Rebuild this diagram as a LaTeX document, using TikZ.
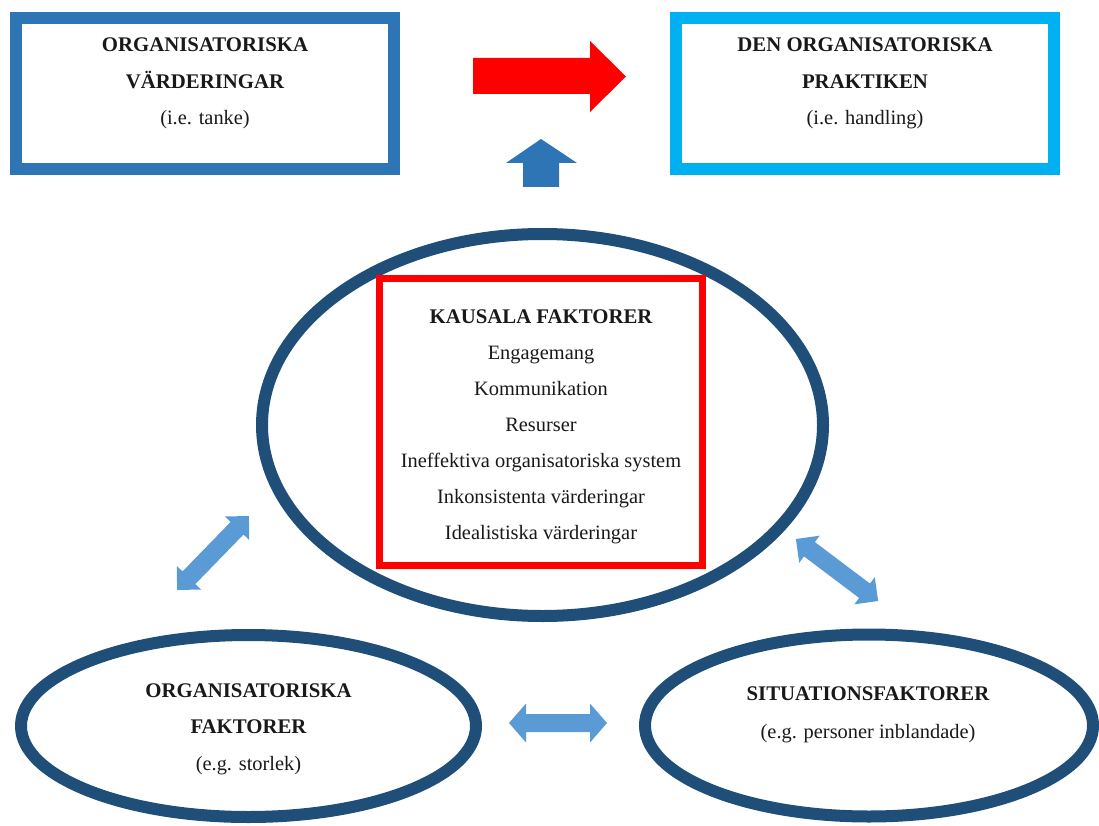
\documentclass[tikz,border=0pt]{standalone}
\usepackage{fontspec}
\setmainfont{Liberation Serif}
\usetikzlibrary{shapes.geometric}
\definecolor{frameblue}{HTML}{2E75B6}
\definecolor{framecyan}{HTML}{00B0F0}
\definecolor{ringblue}{HTML}{1F4E79}
\definecolor{linkblue}{HTML}{5B9BD5}
\definecolor{causered}{HTML}{FF0000}
\newcommand\headfont{\fontsize{20.8}{36.5}\selectfont\bfseries}
\newcommand\plainfont{\fontsize{20.4}{36.5}\selectfont}
\tikzset{
  % two-headed block arrow: length, shaft width, head width, head length
  pics/dblarrow/.style n args={4}{code={
    \fill[linkblue] (-#1/2,0) -- (-#1/2+#4,#3/2) -- (-#1/2+#4,#2/2) -- (#1/2-#4,#2/2)
      -- (#1/2-#4,#3/2) -- (#1/2,0) -- (#1/2-#4,-#3/2) -- (#1/2-#4,-#2/2)
      -- (-#1/2+#4,-#2/2) -- (-#1/2+#4,-#3/2) -- cycle;
  }}
}
\begin{document}
\begin{tikzpicture}[x=1pt,y=-1pt,
  frame/.style={draw, line width=12pt, fill=white, inner sep=0pt,
    minimum width=378pt, minimum height=151pt},
  ring/.style={draw=ringblue, ellipse, line width=12pt, inner sep=0pt},
  txt/.style={align=center, inner sep=0pt, text=black!90, font=\plainfont},
]
\useasboundingbox (0,0) rectangle (1099,826);
\clip (0,0) rectangle (1099,826);

% top row: values and practice
\node[frame, draw=frameblue] (values) at (205,93.5) {};
\node[frame, draw=framecyan] (practice) at (865,93.5) {};
\node[txt] (valuestxt) at (205,83.7)
  {{\headfont ORGANISATORISKA}\\{\headfont VÄRDERINGAR}\\(i.e. tanke)};
\node[txt] (practicetxt) at (865,83.7)
  {{\headfont DEN ORGANISATORISKA}\\{\headfont PRAKTIKEN}\\(i.e. handling)};

% red arrow from values to practice
\fill[causered] (473,58) -- (590,58) -- (590,41) -- (626,76.5) -- (590,112)
  -- (590,94) -- (473,94) -- cycle;
% blue arrow pointing up to practice
\fill[frameblue] (523,187) -- (523,163) -- (506,163) -- (541,139) -- (577,163)
  -- (559,163) -- (559,187) -- cycle;

% central ring with the causal factors
\node[ring, minimum width=561pt, minimum height=382pt] (causal) at (542.5,425) {};
\node[draw=causered, line width=7pt, inner sep=0pt,
  minimum width=323pt, minimum height=287pt] (causebox) at (541,422) {};
\node[txt, font=\fontsize{20.4}{36}\selectfont] (causetxt) at (541,427.2)
  {{\fontsize{20.8}{36}\selectfont\bfseries KAUSALA FAKTORER}\\
   Engagemang\\Kommunikation\\Resurser\\
   Ineffektiva organisatoriska system\\
   Inkonsistenta värderingar\\Idealistiska värderingar};

% lower rings
\node[ring, minimum width=455pt, minimum height=182pt] (orgf) at (248.5,726) {};
\node[txt] (orgtxt) at (248.5,729.2)
  {{\headfont ORGANISATORISKA}\\{\headfont FAKTORER}\\(e.g. storlek)};
\node[ring, minimum width=448pt, minimum height=182pt] (sitf) at (869,725.5) {};
\node[txt, font=\fontsize{20.4}{38}\selectfont] (sittxt) at (868,715.2)
  {{\fontsize{20.8}{38}\selectfont\bfseries SITUATIONSFAKTORER}\\(e.g. personer inblandade)};

% two-headed links between the rings
\pic[rotate=45.8] at (213,553) {dblarrow={103}{18}{34}{17}};
\pic[rotate=-37] at (837,570) {dblarrow={103}{18}{34}{17}};
\pic at (558,723) {dblarrow={98}{18}{39}{17}};
\end{tikzpicture}
\end{document}
